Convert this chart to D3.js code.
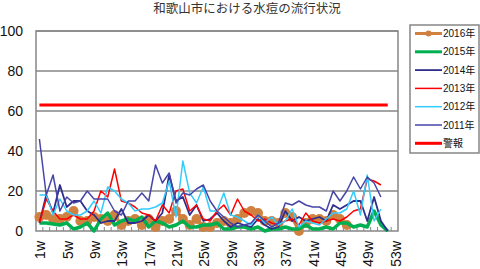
<!DOCTYPE html>
<html>
<head>
<meta charset="utf-8">
<script src="https://cdn.jsdelivr.net/npm/d3@7"></script>
<style>
  body { margin: 0; background: #fff; }
  svg { display: block; font-family: "Liberation Sans", Arial, sans-serif; }
</style>
</head>
<body>
<svg width="480" height="269"></svg>
<script>
// week categories and tick labels
var weeks = d3.range(1, 54);
var tickWeeks = [1, 5, 9, 13, 17, 21, 25, 29, 33, 37, 41, 45, 49, 53];
var yTicks = [0, 20, 40, 60, 80, 100];

// values per week
var y2016 = [7, 8, 6, 6, 7, 10, 5, 5, 7, 6, 5, 8, 3, 5, 6, 3, 6, 2, 5, 6, 10, 6, 3, 6, 2, 2, 4, 5, 4, 6, 9, 10, 9, 5, 5, 4, 9, 7, 0, 4, 6, 6, 5, 8, 6, 3];
var y2015 = [4, 4, 3.5, 3, 4, 1, 2, 4, 0, 6, 9, 3, 5, 6, 5, 7, 2, 5, 4, 2, 3, 5, 2, 2, 3, 3, 4, 1, 1, 2, 2, 1, 2, 0, 1, 1, 2, 1, 1, 3, 1, 1, 2, 1, 4, 4, 2, 3, 2, 10, 3, 0];
var y2014 = [4, 18, 9, 23, 12, 15, 15, 10, 8, 4, 5, 5, 11, 4, 4, 5, 8, 5, 9, 28, 15, 17, 8, 13, 5, 6, 9, 5, 2, 4, 3, 2, 6, 3, 1, 2, 10, 5, 7, 5, 6, 7, 5, 13, 11, 13, 15, 15, 5, 17, 5, 0];
var y2013 = [4, 16, 10, 6, 6, 8, 6, 6, 10, 20, 17, 31, 15, 14, 12, 9, 8, 5, 13, 9, 20, 21, 10, 13, 6, 5, 10, 13, 8, 16, 10, 8, 5, 6, 4, 3, 5, 6, 3, 9, 5, 4, 5, 6, 5, 7, 10, 11, 26, 25, 23];
var y2012 = [18, 18, 8, 16, 10, 8, 8, 10, 15, 9, 22, 20, 16, 14, 10, 11, 11, 12, 14, 25, 7, 35, 19, 14, 22, 10, 10, 19, 8, 7, 5, 3, 8, 4, 7, 3, 5, 11, 2, 5, 4, 3, 6, 9, 9, 11, 20, 8, 28, 5, 11];
var y2011 = [46, 18, 28, 10, 17, 14, 15, 20, 16, 16, 16, 10, 8, 15, 15, 19, 15, 33, 24, 29, 14, 19, 18, 21, 23, 15, 10, 7, 4, 2, 3, 4, 8, 5, 2, 4, 14, 13, 15, 13, 12, 12, 10, 20, 15, 20, 27, 21, 27, 24, 17];
var alarmLevel = 63;
var alarmWeeks = [1, 52];

var seriesNames = ["2016年", "2015年", "2014年", "2013年", "2012年", "2011年", "警報"];

var svg = d3.select("svg");
var plotLeft = 36, plotRight = 398, plotTop = 31, plotBottom = 231;

var x = d3.scaleBand().domain(weeks).range([plotLeft, plotRight]);
var y = d3.scaleLinear().domain([0, 100]).range([plotBottom, plotTop]);
var cx = function (w) { return x(w) + x.bandwidth() / 2; };

// title
svg.append("text")
    .attr("x", 247).attr("y", 13)
    .attr("text-anchor", "middle")
    .style("font-family", "'Noto Sans CJK JP', sans-serif")
    .style("font-size", "12.5px")
    .attr("fill", "#333")
    .text("和歌山市における水痘の流行状況");

// gridlines
svg.append("g").selectAll("line")
    .data(yTicks.slice(1))
    .enter().append("line")
    .attr("x1", plotLeft).attr("x2", plotRight)
    .attr("y1", function (d) { return y(d); })
    .attr("y2", function (d) { return y(d); })
    .attr("stroke", "#868686").attr("stroke-width", 1.5);

// plot frame
svg.append("rect")
    .attr("x", plotLeft).attr("y", plotTop)
    .attr("width", plotRight - plotLeft).attr("height", plotBottom - plotTop)
    .attr("fill", "none").attr("stroke", "#868686").attr("stroke-width", 1.5);

// y labels
svg.append("g").selectAll("text")
    .data(yTicks)
    .enter().append("text")
    .attr("x", 23)
    .attr("y", function (d) { return y(d); })
    .attr("dy", "0.36em")
    .attr("text-anchor", "end")
    .style("font-size", "14px")
    .attr("fill", "#111")
    .text(function (d) { return d; });

// x ticks at category boundaries
svg.append("g").selectAll("line")
    .data(weeks.slice(1))
    .enter().append("line")
    .attr("x1", function (d) { return x(d); })
    .attr("x2", function (d) { return x(d); })
    .attr("y1", plotBottom).attr("y2", plotBottom - 4)
    .attr("stroke", "#868686").attr("stroke-width", 1);

// x labels
svg.append("g").selectAll("text")
    .data(tickWeeks)
    .enter().append("text")
    .attr("transform", function (d) { return "translate(" + (cx(d) + 1) + "," + (plotBottom + 10) + ") rotate(-90)"; })
    .attr("dy", "0.36em")
    .attr("text-anchor", "end")
    .style("font-size", "14px")
    .attr("fill", "#111")
    .text(function (d) { return d + "w"; });

var line = d3.line()
    .x(function (d, i) { return cx(weeks[i]); })
    .y(function (d) { return y(d); });

var series = [
    { name: seriesNames[0], values: y2016, color: "#D0813F", width: 3.5, marker: true },
    { name: seriesNames[1], values: y2015, color: "#00B050", width: 3.5 },
    { name: seriesNames[2], values: y2014, color: "#2E2E8C", width: 1.8 },
    { name: seriesNames[3], values: y2013, color: "#FF0000", width: 1.5 },
    { name: seriesNames[4], values: y2012, color: "#33CCFF", width: 1.5 },
    { name: seriesNames[5], values: y2011, color: "#4646A8", width: 1.5 }
];

var plot = svg.append("g");
series.forEach(function (s) {
    plot.append("path")
        .datum(s.values)
        .attr("d", line)
        .attr("fill", "none")
        .attr("stroke", s.color)
        .attr("stroke-width", s.width)
        .attr("stroke-linejoin", "round");
    if (s.marker) {
        plot.selectAll(null)
            .data(s.values)
            .enter().append("circle")
            .attr("cx", function (d, i) { return cx(weeks[i]); })
            .attr("cy", function (d) { return y(d); })
            .attr("r", 5)
            .attr("fill", s.color);
    }
});

// alarm line
plot.append("line")
    .attr("x1", cx(alarmWeeks[0])).attr("x2", cx(alarmWeeks[1]))
    .attr("y1", y(alarmLevel)).attr("y2", y(alarmLevel))
    .attr("stroke", "#FF0000").attr("stroke-width", 3);

// legend
var legend = svg.append("g");
legend.append("rect")
    .attr("x", 410).attr("y", 25)
    .attr("width", 69).attr("height", 128)
    .attr("fill", "#fff").attr("stroke", "#868686").attr("stroke-width", 1.5);

var legendItems = series.concat([{ name: seriesNames[6], color: "#FF0000", width: 3 }]);
var item = legend.selectAll("g.item")
    .data(legendItems)
    .enter().append("g")
    .attr("class", "item")
    .attr("transform", function (d, i) { return "translate(0," + (33.5 + i * 18.3) + ")"; });

item.append("line")
    .attr("x1", 415).attr("x2", 442)
    .attr("stroke", function (d) { return d.color; })
    .attr("stroke-width", function (d) { return Math.min(d.width, 3); });
item.filter(function (d) { return d.marker; })
    .append("circle")
    .attr("cx", 428.5).attr("r", 3)
    .attr("fill", function (d) { return d.color; });
item.append("text")
    .attr("x", 443)
    .attr("dy", "0.36em")
    .style("font-family", "'Liberation Sans', 'Noto Sans CJK JP', sans-serif")
    .style("font-size", "10px")
    .attr("fill", "#111")
    .text(function (d) { return d.name; });
</script>
</body>
</html>
